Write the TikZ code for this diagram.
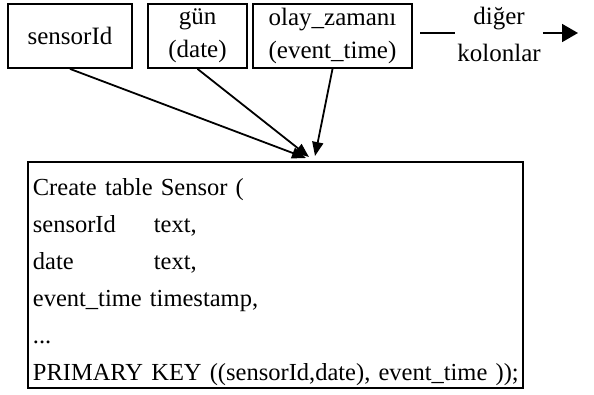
\documentclass[tikz,border=0pt]{standalone}
\usepackage{fontspec}
\setmainfont{Liberation Serif}
\usetikzlibrary{arrows.meta}

\begin{document}
\begin{tikzpicture}[x=1pt,y=-1pt,
    kutu/.style={draw, line width=1.8pt, align=center, inner sep=0pt,
        minimum height=64pt, font=\fontsize{25}{33}\selectfont},
    tablokutu/.style={draw, line width=1.8pt, align=left, anchor=north west,
        text width=485pt, inner xsep=5pt, inner ysep=2pt,
        font=\fontsize{24.5}{37}\selectfont},
    ok/.style={line width=1.8pt, -{Triangle[length=14pt,width=11pt]}},
    buyukok/.style={line width=1.8pt, -{Triangle[length=16pt,width=18pt]}}]
\useasboundingbox[fill=white] (0,0) rectangle (594,394);
%\draw (0, 0) grid (594, 394);
\node[kutu, minimum width=124pt] (sensor) at (70,36) {sensorId};
\node[kutu, minimum width=99pt] (gun) at (197.5,36) {gün\\(date)};
\node[kutu, minimum width=159pt] (olay) at (332.5,36) {olay\_zamanı\\(event\_time)};
\node[align=center, inner xsep=2pt, inner ysep=0pt,
    font=\fontsize{25}{37}\selectfont] (diger) at (499,34) {diğer\\kolonlar};
\coordinate (solbas) at (420,33);
\coordinate (sagson) at (578,33);
\draw[line width=1.8pt] (solbas) -- (solbas -| diger.west);
\draw[buyukok] (sagson -| diger.east) -- (sagson);
\node[tablokutu] (tablo) at (27,161) {\rule{0pt}{32pt}Create table Sensor (\\
    \makebox[121pt][l]{sensorId}text,\\
    \makebox[121pt][l]{date}text,\\
    event\_time timestamp,\\
    ...\\
    \mbox{PRIMARY KEY ((sensorId,date), event\_time ));}};
\coordinate (hA) at (306,158);
\coordinate (hB) at (309,157);
\coordinate (hC) at (315,156);
\foreach \kaynak/\hedef in {sensor/hA, gun/hB, olay/hC}{
    \draw[ok] (\kaynak.south) -- (\hedef);
}
\end{tikzpicture}
\end{document}
